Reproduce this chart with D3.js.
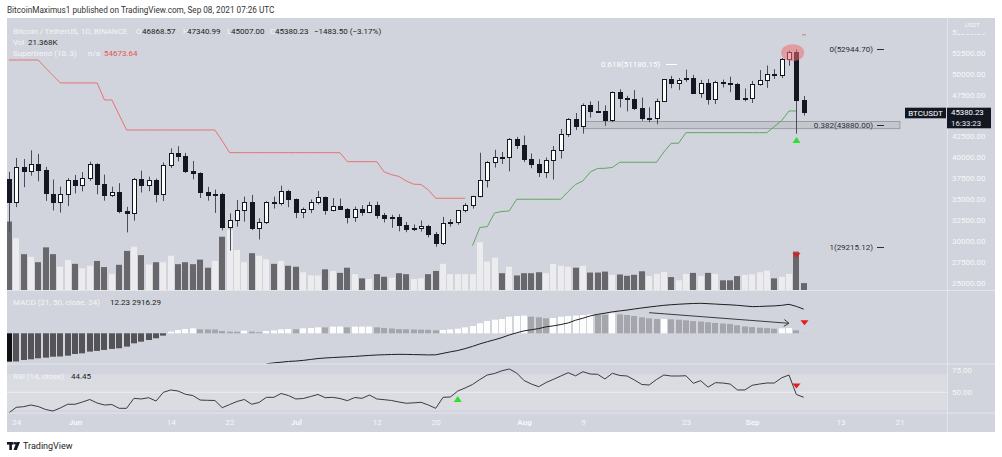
<!DOCTYPE html>
<html>
<head>
<meta charset="utf-8">
<script src="https://cdn.jsdelivr.net/npm/d3@7/dist/d3.min.js"></script>
<style>
  body { margin: 0; background: #ffffff; }
  svg { display: block; font-family: Roboto, "Noto Sans", sans-serif; }
</style>
</head>
<body>
<svg id="chart" width="1002" height="457"></svg>
<script>
// ---- data ----
const dates = [
  '2021-05-23','2021-05-24','2021-05-25','2021-05-26','2021-05-27','2021-05-28','2021-05-29','2021-05-30','2021-05-31',
  '2021-06-01','2021-06-02','2021-06-03','2021-06-04','2021-06-05','2021-06-06','2021-06-07','2021-06-08','2021-06-09','2021-06-10',
  '2021-06-11','2021-06-12','2021-06-13','2021-06-14','2021-06-15','2021-06-16','2021-06-17','2021-06-18','2021-06-19','2021-06-20',
  '2021-06-21','2021-06-22','2021-06-23','2021-06-24','2021-06-25','2021-06-26','2021-06-27','2021-06-28','2021-06-29','2021-06-30',
  '2021-07-01','2021-07-02','2021-07-03','2021-07-04','2021-07-05','2021-07-06','2021-07-07','2021-07-08','2021-07-09','2021-07-10',
  '2021-07-11','2021-07-12','2021-07-13','2021-07-14','2021-07-15','2021-07-16','2021-07-17','2021-07-18','2021-07-19','2021-07-20',
  '2021-07-21','2021-07-22','2021-07-23','2021-07-24','2021-07-25','2021-07-26','2021-07-27','2021-07-28','2021-07-29','2021-07-30','2021-07-31',
  '2021-08-01','2021-08-02','2021-08-03','2021-08-04','2021-08-05','2021-08-06','2021-08-07','2021-08-08','2021-08-09','2021-08-10',
  '2021-08-11','2021-08-12','2021-08-13','2021-08-14','2021-08-15','2021-08-16','2021-08-17','2021-08-18','2021-08-19','2021-08-20',
  '2021-08-21','2021-08-22','2021-08-23','2021-08-24','2021-08-25','2021-08-26','2021-08-27','2021-08-28','2021-08-29','2021-08-30','2021-08-31',
  '2021-09-01','2021-09-02','2021-09-03','2021-09-04','2021-09-05','2021-09-06','2021-09-07','2021-09-08'
];
const opens = [
  37458, 34655, 38796, 38324, 39241, 38529, 35661, 34612, 35641,
  37253, 36694, 37568, 39246, 36829, 35516, 35796, 33556, 33381, 37389,
  36677, 37331, 35546, 39020, 40516, 40143, 38349, 38093, 35820, 35484,
  35600, 31614, 32509, 33676, 34663, 31577, 32283, 34702, 34494, 35911,
  35045, 33502, 33786, 34669, 35288, 33690, 34220, 33863, 32875, 33815,
  33503, 34259, 33086, 32730, 32820, 31874, 31383, 31520, 31778, 30839,
  29790, 32144, 32287, 33635, 34259, 35381, 37237, 39456, 40019, 40016, 42207,
  41461, 39851, 39146, 38208, 39723, 40867, 42848, 44614, 43792, 46280,
  45543, 45533, 44429, 47793, 47097, 47019, 45936, 44686, 44742, 46763,
  49339, 48906, 49322, 49546, 47706, 48961, 46942, 49058, 48897, 48764, 46970,
  47100, 48810, 49246, 50000, 49918, 51757, 52660, 46868.57
];
const highs = [
  38270, 39920, 39791, 40841, 40411, 38856, 37338, 36488, 37499,
  37894, 38225, 39476, 39289, 37925, 36480, 36900, 34069, 37534, 38400,
  37680, 37448, 39380, 41064, 41330, 40527, 39560, 38202, 36457, 36137,
  35750, 33298, 34881, 35298, 35500, 32700, 34749, 35297, 36600, 36100,
  35057, 33977, 34945, 35967, 35293, 35118, 35059, 33928, 34100, 34262,
  34666, 34679, 33340, 33114, 33185, 32249, 31955, 32435, 31899, 31063,
  32858, 32591, 33650, 34500, 35398, 40550, 39542, 40900, 40640, 42316, 42448,
  42599, 40459, 39780, 39969, 41350, 43392, 44700, 45310, 46454, 46700,
  46743, 46218, 47886, 48144, 47372, 48053, 47160, 46000, 47033, 49382,
  49757, 49500, 50500, 49876, 49277, 49368, 49165, 49309, 49667, 48909, 48246,
  49150, 50450, 51000, 50558, 51900, 52780, 52944.70, 47340.99
];
const lows = [
  31111, 34031, 36419, 37800, 37134, 34779, 33632, 33379, 34153,
  35666, 35920, 37170, 35567, 34800, 35258, 33300, 31000, 32396, 35782,
  35936, 34601, 34757, 38730, 39506, 38116, 37365, 35129, 34803, 33336,
  31251, 28805, 31683, 32286, 31275, 30151, 32000, 33862, 34225, 34017,
  32712, 32699, 33316, 34357, 33125, 33532, 33777, 32078, 32261, 33004,
  33307, 32658, 32202, 31550, 31133, 31020, 31164, 31108, 30407, 29278,
  29482, 31708, 31924, 33401, 33851, 35205, 36383, 38772, 39200, 38313, 41000,
  39422, 38690, 37642, 37508, 37332, 39853, 42447, 43261, 42843, 44751,
  45350, 43770, 44217, 45971, 45500, 45660, 44376, 44203, 43955, 46629,
  48273, 48050, 49045, 47600, 47123, 46315, 46371, 48371, 47800, 46853, 46700,
  46512, 48584, 48316, 49400, 49500, 50969, 42843, 45007
];
const closes = [
  34655, 38796, 38324, 39241, 38529, 35663, 34605, 35641, 37253,
  36693, 37568, 39246, 36829, 35513, 35796, 33552, 33380, 37389, 36677,
  37331, 35546, 39020, 40516, 40144, 38349, 38092, 35820, 35483, 35600,
  31608, 32509, 33678, 34663, 31584, 32283, 34700, 34494, 35911, 35045,
  33504, 33786, 34669, 35287, 33690, 34220, 33863, 32875, 33815, 33502,
  34259, 33086, 32730, 32820, 31881, 31383, 31520, 31778, 30839, 29790,
  32144, 32287, 33634, 34258, 35381, 37237, 39457, 40019, 40016, 42206, 41461,
  39845, 39147, 38208, 39723, 40868, 42848, 44614, 43792, 46285, 45543,
  45533, 44429, 47793, 47097, 47019, 45936, 44686, 44742, 46763, 49339,
  48905, 49321, 49546, 47706, 48960, 46942, 49058, 48897, 48767, 46970, 47100,
  48810, 49246, 49999, 49915, 51756, 52663, 46863, 45380.23
];
// volume in thousands of BTC
const volumes = [
  212, 160, 111, 103, 86, 132, 111, 72, 93,
  81, 67, 75, 90, 71, 50, 78, 121, 134, 108,
  79, 86, 86, 106, 80, 86, 80, 94, 69, 90,
  165, 186, 124, 86, 114, 106, 95, 81, 90, 75,
  72, 55, 45, 45, 64, 59, 53, 69, 49, 36,
  34, 49, 41, 38, 52, 49, 34, 36, 49, 59,
  81, 49, 49, 49, 49, 148, 88, 100, 52, 72, 45,
  52, 52, 55, 52, 81, 75, 72, 69, 75, 54,
  54, 57, 47, 48, 44, 47, 58, 43, 50, 56,
  40, 30, 50, 53, 43, 53, 50, 30, 30, 43, 47,
  49, 55, 60, 36, 41, 50, 119, 21.368
];
// Supertrend (10, 3): upper band while bearish, lower band while bullish
const supertrendDown = [
  51660, 51660, 51660, 51660, 51660, 50700, 49800, 48910, 48910,
  48910, 48910, 48910, 48910, 46870, 46870, 45070, 43270, 43270, 43270,
  43270, 43270, 43270, 43270, 43270, 43270, 43270, 43270, 43270, 43270,
  41960, 40556, 40556, 40556, 40556, 40556, 40556, 40556, 40556, 40556,
  40556, 40556, 40556, 40556, 40556, 40556, 40556, 39478, 39478, 39478,
  39478, 39478, 38244, 37920, 37705, 37166, 36782, 36746, 36087, 35093,
  35093, 35093, 35093, 35093, null, null, null, null, null, null, null,
  null, null, null, null, null, null, null, null, null, null,
  null, null, null, null, null, null, null, null, null, null,
  null, null, null, null, null, null, null, null, null, null, null,
  null, null, null, null, null, null, null, 54673.64
];
const supertrendUp = [
  null, null, null, null, null, null, null, null, null,
  null, null, null, null, null, null, null, null, null, null,
  null, null, null, null, null, null, null, null, null, null,
  null, null, null, null, null, null, null, null, null, null,
  null, null, null, null, null, null, null, null, null, null,
  null, null, null, null, null, null, null, null, null, null,
  null, null, null, null, 29415, 31595, 31690, 33332, 33511, 33571, 34973,
  34973, 34973, 34973, 34973, 34973, 34973, 35900, 36746, 37166, 38244,
  38663, 38687, 38783, 39406, 39406, 39406, 39406, 39406, 39406, 40640,
  41682, 41682, 42952, 42952, 42952, 42952, 42952, 42952, 42952, 42952, 42952,
  42952, 42952, 42952, 43671, 44390, 45552, 45552, null
];
// MACD (21, 50, close, 24)
const macdHist = [
  -3420, -3400, -3220, -3140, -3020, -2940, -2830, -2800, -2700,
  -2500, -2420, -2210, -2130, -2010, -1890, -1810, -1610, -1210, -1010,
  -810, -600, -280, 200, 400, 520, 600, 480, 470, 460,
  280, 200, 190, 320, 200, 120, 280, 360, 480, 520,
  480, 600, 640, 720, 710, 810, 820, 720, 800, 810,
  820, 720, 650, 580, 500, 490, 460, 440, 430, 360,
  400, 480, 560, 720, 880, 1210, 1490, 1650, 1720, 2010, 2090,
  2140, 2010, 1930, 1810, 1850, 2010, 2090, 2140, 2210, 2290,
  2270, 2250, 2420, 2290, 2210, 2090, 1930, 1810, 1720, 1740,
  1690, 1640, 1570, 1470, 1420, 1330, 1250, 1180, 1130, 970, 830,
  750, 680, 630, 560, 600, 650, 360, 12.23
];
const macdLine = [
  null, null, null, null, null, null, null, null, null,
  null, null, null, null, null, null, null, null, null, null,
  null, null, null, null, null, null, null, null, null, null,
  null, null, null, null, null, null, -3700, -3570, -3490, -3400,
  -3350, -3270, -3160, -3050, -2980, -2930, -2880, -2840, -2790, -2730,
  -2670, -2620, -2590, -2560, -2540, -2550, -2570, -2590, -2610, -2600,
  -2420, -2240, -2080, -1850, -1580, -1280, -1020, -780, -520, -200, 60,
  290, 430, 570, 780, 900, 1060, 1250, 1580, 1820, 2100,
  2290, 2430, 2590, 2700, 2810, 2940, 3060, 3170, 3280, 3380,
  3450, 3510, 3560, 3600, 3620, 3580, 3530, 3480, 3440, 3380, 3300,
  3220, 3240, 3280, 3310, 3380, 3500, 3250, 2916.29
];
// RSI (14, close)
const rsiValues = [
  27, 33.3, 34, 35.9, 34.2, 30.9, 29.2, 32.6, 36.7,
  36.7, 39.2, 42, 38.1, 35.9, 36.4, 32.2, 32.2, 43.3, 42.6,
  44, 40.3, 50, 52.6, 51.4, 47.8, 46.4, 41.4, 41.1, 40.9,
  32.9, 36.4, 39.8, 42, 36.7, 38.7, 44.4, 44.4, 48.7, 46.4,
  42.6, 43.1, 45.3, 47.6, 44, 44.4, 43.1, 40.7, 44.2, 43.3,
  47, 42.6, 41.8, 40.9, 39.2, 37.8, 38.3, 38.9, 35.9, 32.2,
  44.4, 44.8, 51.4, 54.8, 58.7, 64.2, 69.2, 70.9, 73.9, 75.9, 71.4,
  63.1, 59.2, 56.2, 60.9, 64.4, 68.1, 71.8, 68.3, 72.9, 70.3,
  70, 64.8, 71.1, 68.7, 68.1, 63.7, 58.7, 58.1, 64.2, 69.2,
  68.1, 68.1, 68.4, 60, 62.9, 55.7, 60.7, 60.3, 59.2, 52.6, 52.6,
  57.8, 59.2, 60.3, 60.3, 66.1, 69.2, 47.6, 44.45
];

const timeTickDates = ['2021-05-24','2021-06-01','2021-06-14','2021-06-22','2021-07-01','2021-07-12','2021-07-20',
  '2021-08-01','2021-08-09','2021-08-23','2021-09-01','2021-09-13','2021-09-21'];
const timeTickLabels = ['24','Jun','14','22','Jul','12','20','Aug','9','23','Sep','13','21'];
// 45000.00 sits under the last-price tag, so it is not shown
const priceTicks = [25000, 27500, 30000, 32500, 35000, 37500, 40000, 42500, 47500, 50000, 52500, 55000];
const macdTicks = [5000, 2500, 0, -2500];
const rsiTicks = [75, 50];

const fibRatios = ['0', '0.382', '1'];
const fibPrices = [52944.70, 43880.00, 29215.12];

// ---- layout ----
const svg = d3.select('#chart');
const bg = '#d1d4dc', sepColor = '#e3e5ea', axisText = '#f6f7f9', lightText = '#f3f4f7', darkText = '#222';
const pLeft = 7, pRight = 995, pTop = 18, pBottom = 432, axisX = 947;
const mainBottom = 290.5, macdTop = 291, macdBottom = 364, rsiTop = 364.5, rsiBottom = 413;

const parseDate = d3.utcParse('%Y-%m-%d');
const rows = dates.map((d, i) => ({
  date: parseDate(d), o: opens[i], h: highs[i], l: lows[i], c: closes[i],
  vol: volumes[i], stDown: supertrendDown[i], stUp: supertrendUp[i],
  hist: macdHist[i], macd: macdLine[i], rsi: rsiValues[i]
}));

const xScale = d3.scaleUtc()
  .domain([parseDate('2021-05-23'), parseDate('2021-09-21')])
  .range([8.8, 899.4]);
const yPrice = d3.scaleLinear().domain([25000, 55000]).range([282.5, 32.1]);
const yVol = d3.scaleLinear().domain([0, 100]).range([290, 257.7]);
const yMacd = d3.scaleLinear().domain([0, 2500]).range([333.3, 312.6]);
const yRsi = d3.scaleLinear().domain([50, 75]).range([392.3, 369.8]);
const cx = d => Math.round(xScale(d.date));

// header
svg.append('text').attr('x', 7).attr('y', 12.5).attr('font-size', 8.2).attr('fill', '#333')
  .text('BitcoinMaximus1 published on TradingView.com, Sep 08, 2021 07:26 UTC');

// panel background
svg.append('rect').attr('x', pLeft).attr('y', pTop).attr('width', pRight - pLeft).attr('height', pBottom - pTop).attr('fill', bg);

// rsi band
svg.append('rect').attr('x', pLeft).attr('y', yRsi(70)).attr('width', axisX - pLeft)
  .attr('height', Math.min(yRsi(30), rsiBottom) - yRsi(70)).attr('fill', '#dadce2');
svg.append('line').attr('x1', pLeft).attr('x2', axisX).attr('y1', yRsi(50)).attr('y2', yRsi(50))
  .attr('stroke', '#eceef2').attr('stroke-width', 1);

// clip paths
const defs = svg.append('defs');
function addClip(id, x, y, w, h) {
  defs.append('clipPath').attr('id', id).append('rect').attr('x', x).attr('y', y).attr('width', w).attr('height', h);
}
addClip('clipMain', pLeft, pTop, axisX - pLeft, mainBottom - pTop);
addClip('clipMacd', pLeft, macdTop, axisX - pLeft, macdBottom - macdTop);
addClip('clipRsi', pLeft, rsiTop, axisX - pLeft, rsiBottom - rsiTop);
addClip('clipMacdAxis', axisX, macdTop, pRight - axisX, macdBottom - macdTop);

// ---- main pane ----
const main = svg.append('g').attr('clip-path', 'url(#clipMain)');

main.selectAll('rect.vol').data(rows).join('rect')
  .attr('class', 'vol')
  .attr('x', d => cx(d) - 3).attr('width', 6)
  .attr('y', d => yVol(d.vol)).attr('height', d => yVol(0) - yVol(d.vol))
  .attr('fill', d => d.c >= d.o ? '#ececef' : '#68686c');

// support zone
main.append('rect')
  .attr('x', xScale(parseDate('2021-08-09')) + 0.5)
  .attr('y', yPrice(44350) + 0.5)
  .attr('width', xScale(parseDate('2021-09-21')) - xScale(parseDate('2021-08-09')))
  .attr('height', yPrice(43500) - yPrice(44350))
  .attr('fill', 'rgba(185,188,195,0.55)').attr('stroke', '#9b9ea6').attr('stroke-width', 1);

// supertrend
function stLine(key) {
  return d3.line().defined(d => d[key] != null).x(d => xScale(d.date)).y(d => yPrice(d[key]));
}
main.append('path').datum(rows).attr('d', stLine('stDown')).attr('fill', 'none').attr('stroke', '#e57373').attr('stroke-width', 1);
main.append('path').datum(rows).attr('d', stLine('stUp')).attr('fill', 'none').attr('stroke', '#5fa85f').attr('stroke-width', 1);
rows.forEach((d, i) => {
  const prev = rows[i - 1], next = rows[i + 1];
  if (d.stDown != null && (!prev || prev.stDown == null) && (!next || next.stDown == null)) {
    main.append('line').attr('x1', cx(d) - 2).attr('x2', cx(d) + 2)
      .attr('y1', yPrice(d.stDown)).attr('y2', yPrice(d.stDown)).attr('stroke', '#e57373');
  }
});

// candles
const candles = main.selectAll('g.candle').data(rows).join('g').attr('class', 'candle');
candles.append('line')
  .attr('x1', d => cx(d) + 0.5).attr('x2', d => cx(d) + 0.5)
  .attr('y1', d => yPrice(d.h)).attr('y2', d => yPrice(d.l))
  .attr('stroke', '#4a4d55').attr('stroke-width', 1);
candles.append('rect')
  .attr('x', d => cx(d) - 1.5).attr('width', 4)
  .attr('y', d => Math.round(yPrice(Math.max(d.o, d.c))) + 0.5)
  .attr('height', d => Math.max(1, Math.round(yPrice(Math.min(d.o, d.c))) - Math.round(yPrice(Math.max(d.o, d.c)))))
  .attr('fill', d => d.c >= d.o ? '#ffffff' : '#131722')
  .attr('stroke', '#131722').attr('stroke-width', 1);

// fib levels
fibPrices.forEach((p, i) => {
  main.append('text').attr('x', 873).attr('y', yPrice(p) + 3).attr('text-anchor', 'end')
    .attr('font-size', 8).attr('fill', '#2a2e39').text(fibRatios[i] + '(' + d3.format('.2f')(p) + ')');
  main.append('line').attr('x1', 877).attr('x2', 884).attr('y1', Math.round(yPrice(p)) + 0.5).attr('y2', Math.round(yPrice(p)) + 0.5)
    .attr('stroke', '#2a2e39');
});
main.append('text').attr('x', 601).attr('y', yPrice(51180.15) + 3).attr('font-size', 8).attr('fill', '#ffffff')
  .text('0.618(51180.15)');
main.append('line').attr('x1', 666).attr('x2', 677).attr('y1', Math.round(yPrice(51180.15)) + 0.5).attr('y2', Math.round(yPrice(51180.15)) + 0.5)
  .attr('stroke', '#ffffff');

// highlight at the top
const sep6 = parseDate('2021-09-06'), sep7 = parseDate('2021-09-07');
main.append('ellipse')
  .attr('cx', (xScale(sep6) + xScale(sep7)) / 2).attr('cy', yPrice(52540))
  .attr('rx', 11.5).attr('ry', 8.5).attr('fill', 'rgba(238,110,115,0.55)');

// markers
function tri(g, x, y, up, color) {
  const p = up ? 'M-4,3L4,3L0,-3Z' : 'M-4,-2.5L4,-2.5L0,2.5Z';
  g.append('path').attr('d', p).attr('transform', 'translate(' + x + ',' + y + ')').attr('fill', color);
}
const sep7Row = rows[dates.indexOf('2021-09-07')];
tri(main, cx(sep7Row) + 0.5, yPrice(sep7Row.l) + 6.5, true, '#2ee02e');
tri(main, cx(sep7Row) + 0.5, yVol(sep7Row.vol) + 4, false, '#e01e1e');

// ---- MACD pane ----
const macdG = svg.append('g').attr('clip-path', 'url(#clipMacd)');
macdG.selectAll('rect.hist').data(rows).join('rect')
  .attr('class', 'hist')
  .attr('x', d => cx(d) - 3).attr('width', 6)
  .attr('y', d => Math.min(yMacd(d.hist), yMacd(0)))
  .attr('height', d => Math.abs(yMacd(d.hist) - yMacd(0)))
  .attr('fill', (d, i) => {
    const prev = i > 0 ? rows[i - 1].hist : null;
    if (d.hist < 0) return (prev == null || d.hist < prev) ? '#111111' : '#545458';
    return (prev == null || d.hist >= prev) ? '#fdfdfd' : '#a5a6ab';
  });
macdG.append('path').datum(rows)
  .attr('d', d3.line().defined(d => d.macd != null).x(d => xScale(d.date)).y(d => yMacd(d.macd)))
  .attr('fill', 'none').attr('stroke', '#1e1e1e').attr('stroke-width', 1);

// divergence arrow
const ax1 = xScale(parseDate('2021-08-18')), ay1 = yMacd(2490);
const ax2 = xScale(parseDate('2021-09-06')), ay2 = yMacd(1210);
const ang = Math.atan2(ay2 - ay1, ax2 - ax1);
macdG.append('line').attr('x1', ax1).attr('y1', ay1).attr('x2', ax2).attr('y2', ay2).attr('stroke', '#3a3a3f');
[-0.6, 0.6].forEach(a => {
  macdG.append('line').attr('x1', ax2).attr('y1', ay2)
    .attr('x2', ax2 - 6 * Math.cos(ang + a)).attr('y2', ay2 - 6 * Math.sin(ang + a)).attr('stroke', '#3a3a3f');
});
const sep8Row = rows[rows.length - 1];
tri(macdG, cx(sep8Row) + 0.5, yMacd(1280), false, '#e01e1e');

// ---- RSI pane ----
const rsiG = svg.append('g').attr('clip-path', 'url(#clipRsi)');
rsiG.append('path').datum(rows)
  .attr('d', d3.line().x(d => xScale(d.date)).y(d => yRsi(d.rsi)))
  .attr('fill', 'none').attr('stroke', '#3b3b40').attr('stroke-width', 1);
tri(rsiG, xScale(parseDate('2021-07-23')), yRsi(42.5), true, '#2ee02e');
tri(rsiG, cx(sep7Row) + 0.5, yRsi(57), false, '#e01e1e');

// ---- separators ----
[mainBottom, macdBottom, rsiBottom].forEach(y => {
  svg.append('line').attr('x1', pLeft).attr('x2', pRight).attr('y1', y).attr('y2', y).attr('stroke', sepColor);
});
svg.append('line').attr('x1', axisX + 0.5).attr('x2', axisX + 0.5).attr('y1', pTop).attr('y2', pBottom).attr('stroke', sepColor);

// ---- axes ----
function styleAxis(g, anchor) {
  g.select('.domain').remove();
  g.selectAll('.tick line').remove();
  g.selectAll('text').attr('fill', axisText).attr('font-size', 8).attr('font-family', 'Roboto, "Noto Sans", sans-serif')
    .attr('text-anchor', anchor);
}
const priceAxis = svg.append('g').attr('transform', 'translate(' + axisX + ',0)')
  .call(d3.axisRight(yPrice).tickValues(priceTicks).tickFormat(d3.format('.2f')).tickSize(0).tickPadding(5));
styleAxis(priceAxis, 'start');

// currency label above the top tick (the tick label is partly covered)
svg.append('rect').attr('x', 957.5).attr('y', 19).attr('width', 27.5).attr('height', 15).attr('fill', bg);
svg.append('text').attr('x', 965).attr('y', 26.5).attr('font-size', 6).attr('fill', axisText).text('USDT');

const macdAxis = svg.append('g').attr('transform', 'translate(' + axisX + ',0)').attr('clip-path', 'url(#clipMacdAxis)')
  .call(d3.axisRight(yMacd).tickValues(macdTicks).tickFormat(d3.format('.2f')).tickSize(0).tickPadding(5));
styleAxis(macdAxis, 'start');

const rsiAxis = svg.append('g').attr('transform', 'translate(' + axisX + ',0)')
  .call(d3.axisRight(yRsi).tickValues(rsiTicks).tickFormat(d3.format('.2f')).tickSize(0).tickPadding(5));
styleAxis(rsiAxis, 'start');

const timeAxis = svg.append('g').attr('transform', 'translate(0,' + rsiBottom + ')')
  .call(d3.axisBottom(xScale).tickValues(timeTickDates.map(parseDate))
    .tickFormat((d, i) => timeTickLabels[i]).tickSize(0).tickPadding(6));
styleAxis(timeAxis, 'middle');
timeAxis.selectAll('text').attr('font-weight', (d, i) => /[A-Za-z]/.test(timeTickLabels[i]) ? 'bold' : 'normal');

// last price tag
svg.append('rect').attr('x', 905).attr('y', 107.7).attr('width', 41).attr('height', 10.6).attr('fill', '#131722');
svg.append('text').attr('x', 925.5).attr('y', 115.8).attr('text-anchor', 'middle').attr('font-size', 8).attr('fill', '#ffffff').text('BTCUSDT');
svg.append('rect').attr('x', axisX).attr('y', 107.7).attr('width', 44).attr('height', 20.6).attr('fill', '#131722');
svg.append('text').attr('x', 951).attr('y', 115.2).attr('font-size', 7.8).attr('fill', '#ffffff').text(d3.format('.2f')(closes[closes.length - 1]));
svg.append('text').attr('x', 951).attr('y', 125.8).attr('font-size', 7.8).attr('fill', '#e6e8ee').text('16:33:23');

// ---- legends ----
function legend(y, parts) {
  const t = svg.append('text').attr('y', y).attr('font-size', 8);
  parts.forEach(p => t.append('tspan').attr('x', p[0]).attr('fill', p[2]).text(p[1]));
}
legend(33.5, [
  [13, 'Bitcoin / TetherUS, 1D, BINANCE', lightText],
  [136, 'O', lightText], [142, '46868.57', darkText],
  [183, 'H', lightText], [187, '47340.99', darkText],
  [227, 'L', lightText], [231, '45007.00', darkText],
  [270, 'C', lightText], [275, '45380.23', darkText],
  [314, '\u22121483.50 (\u22123.17%)', darkText]
]);
legend(44.5, [[13, 'Vol', lightText], [28, '21.368K', darkText]]);
legend(55.5, [[13, 'Supertrend (10, 3)', lightText], [88, 'n/a', lightText], [104, '54673.64', '#e5544f']]);
legend(304.5, [[13, 'MACD (21, 50, close, 24)', lightText], [110, '12.23', darkText], [132, '2916.29', darkText]]);
legend(378.5, [[13, 'RSI (14, close)', lightText], [71, '44.45', darkText]]);

// ---- footer logo ----
const logo = svg.append('g');
logo.append('rect').attr('x', 7).attr('y', 442).attr('width', 6.5).attr('height', 2.6).attr('fill', '#131722');
logo.append('rect').attr('x', 9.3).attr('y', 442).attr('width', 2.6).attr('height', 8).attr('fill', '#131722');
logo.append('circle').attr('cx', 15).attr('cy', 443.3).attr('r', 1.3).attr('fill', '#131722');
logo.append('path').attr('d', 'M16.5,442L20,442L16.8,450L13.5,450Z').attr('fill', '#131722');
svg.append('text').attr('x', 23).attr('y', 449).attr('font-size', 9).attr('fill', '#222').text('TradingView');
</script>
</body>
</html>
